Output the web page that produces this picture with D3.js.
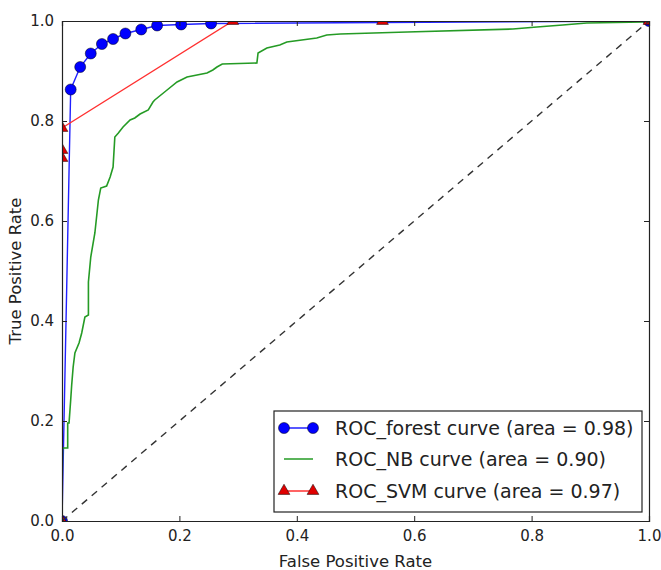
<!DOCTYPE html>
<html>
<head>
<meta charset="utf-8">
<script src="https://cdn.jsdelivr.net/npm/d3@7"></script>
<style>
  body { margin: 0; background: #fff; }
  text { font-family: "DejaVu Sans", sans-serif; }
</style>
</head>
<body>
<div id="roc-chart"></div>
<script>
// ROC curve data
const forestFpr = [0, 0.0148, 0.031, 0.049, 0.068, 0.087, 0.108, 0.135, 0.162, 0.203, 0.254, 1.0];
const forestTpr = [0, 0.863, 0.908, 0.935, 0.954, 0.964, 0.975, 0.983, 0.991, 0.993, 0.995, 1.0];

const nbFpr = [0, 0, 0.001, 0.0097, 0.0097, 0.012, 0.0148, 0.0165, 0.019, 0.022, 0.029, 0.0336, 0.039, 0.045,
  0.045, 0.049, 0.056, 0.062, 0.066, 0.076, 0.082, 0.087, 0.090, 0.096, 0.104, 0.116, 0.124, 0.133, 0.147,
  0.155, 0.158, 0.179, 0.196, 0.213, 0.247, 0.257, 0.264, 0.273, 0.332, 0.334, 0.349, 0.371, 0.383, 0.434,
  0.451, 0.474, 0.588, 0.768, 0.809, 0.853, 0.894, 0.991, 1.0];
const nbTpr = [0, 0.05, 0.146, 0.146, 0.196, 0.196, 0.242, 0.272, 0.308, 0.336, 0.356, 0.376, 0.408, 0.412,
  0.478, 0.528, 0.576, 0.642, 0.666, 0.670, 0.688, 0.708, 0.768, 0.776, 0.788, 0.802, 0.806, 0.814, 0.822,
  0.838, 0.842, 0.862, 0.878, 0.888, 0.896, 0.902, 0.908, 0.914, 0.916, 0.936, 0.946, 0.952, 0.958, 0.966,
  0.972, 0.974, 0.978, 0.984, 0.988, 0.992, 0.996, 0.998, 1.0];

const svmFpr = [0, 0, 0, 0, 0.291, 0.546, 1.0];
const svmTpr = [0, 0.726, 0.742, 0.786, 1.0, 1.0, 1.0];

const ticks = [0.0, 0.2, 0.4, 0.6, 0.8, 1.0];
const legendLabels = [
  "ROC_forest curve (area = 0.98)",
  "ROC_NB curve (area = 0.90)",
  "ROC_SVM curve (area = 0.97)"
];

const zip = (xs, ys) => xs.map((x, i) => ({ x: x, y: ys[i] }));
const forest = zip(forestFpr, forestTpr);
const nb = zip(nbFpr, nbTpr);
const svm = zip(svmFpr, svmTpr);

// chart dimensions
const width = 661;
const height = 570;
const margin = { top: 21, right: 12, bottom: 49, left: 62 };

const svg = d3.select("#roc-chart")
  .append("svg")
    .attr("width", width)
    .attr("height", height);

const xScale = d3.scaleLinear().domain([0, 1]).range([margin.left, width - margin.right]);
const yScale = d3.scaleLinear().domain([0, 1]).range([height - margin.bottom, margin.top]);

svg.append("clipPath")
    .attr("id", "plot-clip")
  .append("rect")
    .attr("x", xScale(0))
    .attr("y", yScale(1))
    .attr("width", xScale(1) - xScale(0))
    .attr("height", yScale(0) - yScale(1));

const plot = svg.append("g").attr("clip-path", "url(#plot-clip)");

const lineGen = d3.line().x(d => xScale(d.x)).y(d => yScale(d.y));

// random forest
plot.append("path")
    .attr("d", lineGen(forest))
    .attr("fill", "none")
    .attr("stroke", "#2020ff")
    .attr("stroke-width", 1.4);

// naive bayes
plot.append("path")
    .attr("d", lineGen(nb))
    .attr("fill", "none")
    .attr("stroke", "#259b25")
    .attr("stroke-width", 1.6);

// svm
plot.append("path")
    .attr("d", lineGen(svm))
    .attr("fill", "none")
    .attr("stroke", "#ff3030")
    .attr("stroke-width", 1.4);

plot.selectAll(".forest-dot")
  .data(forest)
  .join("circle")
    .attr("class", "forest-dot")
    .attr("cx", d => xScale(d.x))
    .attr("cy", d => yScale(d.y))
    .attr("r", 5.5)
    .attr("fill", "#0000ff")
    .attr("stroke", "#000")
    .attr("stroke-width", 0.5);

const triangle = d3.symbol().type(d3.symbolTriangle).size(60);

plot.selectAll(".svm-mark")
  .data(svm)
  .join("path")
    .attr("class", "svm-mark")
    .attr("d", triangle)
    .attr("transform", d => `translate(${xScale(d.x)}, ${yScale(d.y)})`)
    .attr("fill", "#e00000")
    .attr("stroke", "#000")
    .attr("stroke-width", 0.5);

// chance diagonal
plot.append("line")
    .attr("x1", xScale(0))
    .attr("y1", yScale(0))
    .attr("x2", xScale(1))
    .attr("y2", yScale(1))
    .attr("stroke", "#333")
    .attr("stroke-width", 1.4)
    .attr("stroke-dasharray", "7,6");

// axes - ticks inside on all four sides
const tickLen = 5;
svg.append("g")
    .attr("transform", `translate(0, ${yScale(0)})`)
    .call(d3.axisBottom(xScale).tickValues(ticks).tickFormat(d3.format(".1f")).tickSize(-tickLen).tickPadding(9));
svg.append("g")
    .attr("transform", `translate(0, ${yScale(1)})`)
    .call(d3.axisTop(xScale).tickValues(ticks).tickFormat("").tickSize(-tickLen));
svg.append("g")
    .attr("transform", `translate(${xScale(0)}, 0)`)
    .call(d3.axisLeft(yScale).tickValues(ticks).tickFormat(d3.format(".1f")).tickSize(-tickLen).tickPadding(8));
svg.append("g")
    .attr("transform", `translate(${xScale(1)}, 0)`)
    .call(d3.axisRight(yScale).tickValues(ticks).tickFormat("").tickSize(-tickLen));

svg.selectAll(".domain").attr("stroke", "#222").attr("stroke-width", 1.2);
svg.selectAll(".tick line").attr("stroke", "#222");
svg.selectAll(".tick text")
    .style("font-size", "15px")
    .attr("fill", "#222");

// axis labels
svg.append("text")
    .text("False Positive Rate")
    .attr("x", (xScale(0) + xScale(1)) / 2)
    .attr("y", 567)
    .attr("text-anchor", "middle")
    .attr("fill", "#222")
    .style("font-size", "16.5px");

svg.append("text")
    .text("True Positive Rate")
    .attr("transform", `translate(21, ${(yScale(0) + yScale(1)) / 2}) rotate(-90)`)
    .attr("text-anchor", "middle")
    .attr("fill", "#222")
    .style("font-size", "16.5px");

// legend
const legend = svg.append("g").attr("transform", "translate(274, 411)");
legend.append("rect")
    .attr("width", 368)
    .attr("height", 101)
    .attr("fill", "#fff")
    .attr("stroke", "#222")
    .attr("stroke-width", 1.2);

const rowY = [17, 48, 80];
const legendRows = legend.selectAll(".legend-row")
  .data(legendLabels)
  .join("g")
    .attr("class", "legend-row")
    .attr("transform", (d, i) => `translate(0, ${rowY[i]})`);

const legendColors = ["#2020ff", "#259b25", "#ff3030"];
legendRows.append("line")
    .attr("x1", 10).attr("x2", 39)
    .attr("stroke", (d, i) => legendColors[i])
    .attr("stroke-width", 1.5);

legendRows.filter((d, i) => i === 0).selectAll("circle")
  .data([10, 39])
  .join("circle")
    .attr("cx", d => d)
    .attr("r", 5.5)
    .attr("fill", "#0000ff")
    .attr("stroke", "#000")
    .attr("stroke-width", 0.5);

legendRows.filter((d, i) => i === 2).selectAll("path")
  .data([10, 39])
  .join("path")
    .attr("d", triangle)
    .attr("transform", d => `translate(${d}, 0)`)
    .attr("fill", "#e00000")
    .attr("stroke", "#000")
    .attr("stroke-width", 0.5);

legendRows.append("text")
    .text(d => d)
    .attr("x", 61)
    .attr("dy", "0.35em")
    .attr("fill", "#222")
    .style("font-size", "19px");
</script>
</body>
</html>
